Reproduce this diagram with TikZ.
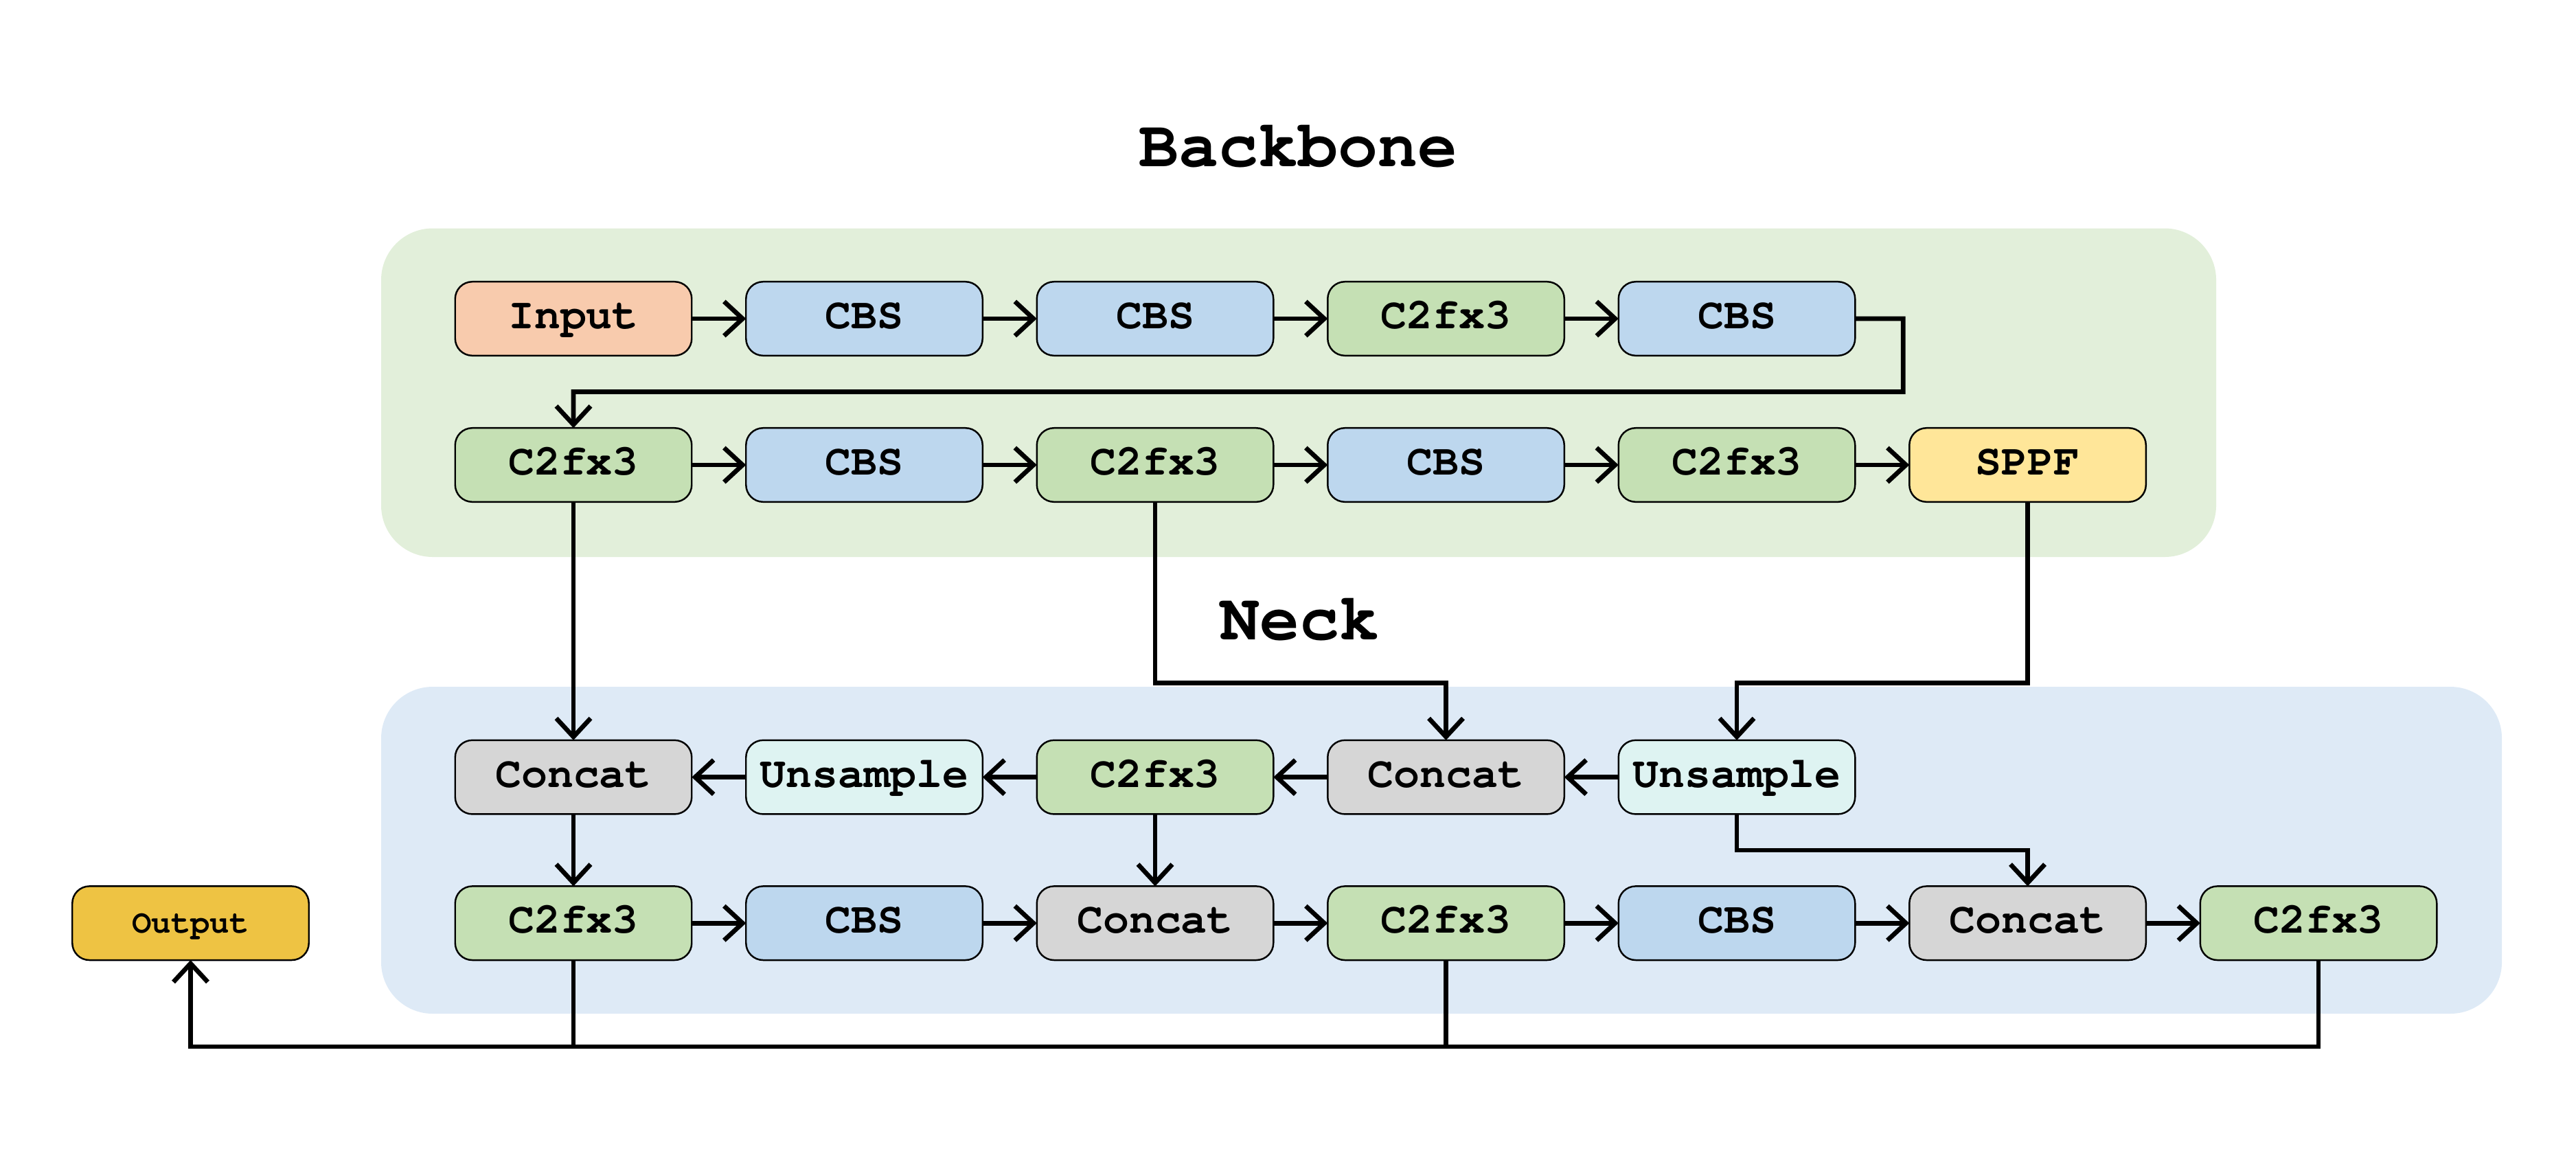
\documentclass[tikz,border=0pt]{standalone}
\usepackage{fontspec}
\setmonofont{TeX Gyre Cursor}
\usepackage{xcolor}
\definecolor{cOrange}{HTML}{F8CBAD}
\definecolor{cBlue}  {HTML}{BDD7EE}
\definecolor{cGreen} {HTML}{C5E0B4}
\definecolor{cYellow}{HTML}{FFE699}
\definecolor{cGray}  {HTML}{D6D6D6}
\definecolor{cCyan}  {HTML}{DEF3F2}
\definecolor{cGold}  {HTML}{EEC343}
\definecolor{bgGreen}{HTML}{E2EFDA}
\definecolor{bgBlue} {HTML}{DEEAF6}
\usetikzlibrary{arrows.meta, positioning, calc}
\tikzset{
  blk/.style  = {rectangle, draw=black, line width=0.7pt, rounded corners=0.25cm,
                 minimum width=3.445cm, minimum height=1.076cm, inner sep=0pt,
                 outer sep=0pt, text height=0.82em, text depth=0em,
                 align=center, font=\ttfamily\bfseries\fontsize{18}{20}\selectfont,
                 fill=#1},
  blk/.default = cBlue,
  ttl/.style  = {font=\ttfamily\bfseries\fontsize{27.5}{30}\selectfont},
  arr/.style  = {-{Straight Barb[length=0.27cm, width=0.5cm]}, line width=1.9pt},
  lin/.style  = {line width=1.9pt},
}
\begin{document}
\begin{tikzpicture}
  \useasboundingbox (0,0) rectangle (37.51,-16.91);

  %% --- Group backgrounds ---
  \fill[bgGreen, rounded corners=0.75cm] (5.55,-3.325) rectangle (32.27,-8.11);
  \fill[bgBlue,  rounded corners=0.75cm] (5.55,-10.0)  rectangle (36.43,-14.76);
  \node[ttl] (tback) at (18.9,-2.13) {Backbone};
  \node[ttl] (tneck) at (18.92,-9.02) {Neck};

  %% --- Backbone, row 1 ---
  \node[blk=cOrange] (in) at (8.35,-4.64) {Input};
  \node[blk, right=0.79cm of in] (b1) {CBS};
  \node[blk, right=0.79cm of b1] (b2) {CBS};
  \node[blk=cGreen, right=0.79cm of b2] (b3) {C2fx3};
  \node[blk, right=0.79cm of b3] (b4) {CBS};

  %% --- Backbone, row 2 ---
  \node[blk=cGreen, below=1.054cm of in] (c1) {C2fx3};
  \node[blk, right=0.79cm of c1] (c2) {CBS};
  \node[blk=cGreen, right=0.79cm of c2] (c3) {C2fx3};
  \node[blk, right=0.79cm of c3] (c4) {CBS};
  \node[blk=cGreen, right=0.79cm of c4] (c5) {C2fx3};
  \node[blk=cYellow, right=0.79cm of c5] (c6) {SPPF};

  %% --- Neck, row 3 ---
  \node[blk=cGray, below=3.47cm of c1] (n1) {Concat};
  \node[blk=cCyan, right=0.79cm of n1] (n2) {Unsample};
  \node[blk=cGreen, right=0.79cm of n2] (n3) {C2fx3};
  \node[blk=cGray, right=0.79cm of n3] (n4) {Concat};
  \node[blk=cCyan, right=0.79cm of n4] (n5) {Unsample};

  %% --- Neck, row 4 ---
  \node[blk=cGreen, below=1.05cm of n1] (d1) {C2fx3};
  \node[blk, right=0.79cm of d1] (d2) {CBS};
  \node[blk=cGray, right=0.79cm of d2] (d3) {Concat};
  \node[blk=cGreen, right=0.79cm of d3] (d4) {C2fx3};
  \node[blk, right=0.79cm of d4] (d5) {CBS};
  \node[blk=cGray, right=0.79cm of d5] (d6) {Concat};
  \node[blk=cGreen, right=0.79cm of d6] (d7) {C2fx3};

  %% --- Output ---
  \node[blk=cGold, font=\ttfamily\bfseries\fontsize{13.5}{16}\selectfont,
        left=2.13cm of d1] (out) {Output};

  %% --- Arrows ---
  \draw[arr] (in) -- (b1);
  \draw[arr] (b1) -- (b2);
  \draw[arr] (b2) -- (b3);
  \draw[arr] (b3) -- (b4);
  \coordinate (turn) at ($(in.south)!0.5!(c1.north)$);
  \draw[arr] (b4.east) -- ++(0.7,0) |- (turn) -- (c1.north);

  \draw[arr] (c1) -- (c2);
  \draw[arr] (c2) -- (c3);
  \draw[arr] (c3) -- (c4);
  \draw[arr] (c4) -- (c5);
  \draw[arr] (c5) -- (c6);

  \draw[arr] (c1.south) -- (n1.north);
  \draw[arr] (c3.south) -- ++(0,-2.64) -| (n4.north);
  \draw[arr] (c6.south) -- ++(0,-2.64) -| (n5.north);

  \draw[arr] (n5) -- (n4);
  \draw[arr] (n4) -- (n3);
  \draw[arr] (n3) -- (n2);
  \draw[arr] (n2) -- (n1);

  \draw[arr] (n1.south) -- (d1.north);
  \draw[arr] (n3.south) -- (d3.north);
  \draw[arr] (n5.south) |- ($(n5.south)!0.5!(d6.north)$) -| (d6.north);

  \draw[arr] (d1) -- (d2);
  \draw[arr] (d2) -- (d3);
  \draw[arr] (d3) -- (d4);
  \draw[arr] (d4) -- (d5);
  \draw[arr] (d5) -- (d6);
  \draw[arr] (d6) -- (d7);

  \draw[lin] (d1.south) -- ++(0,-1.26);
  \draw[lin] (d4.south) -- ++(0,-1.26);
  \draw[arr] (d7.south) -- ++(0,-1.26) -| (out.south);

\end{tikzpicture}
\end{document}
